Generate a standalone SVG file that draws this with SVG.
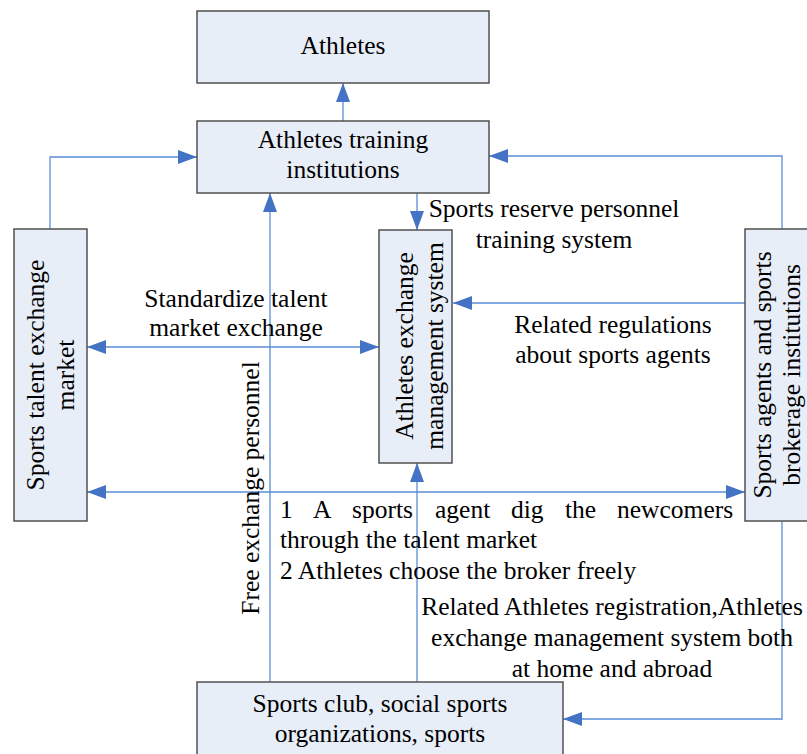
<svg xmlns="http://www.w3.org/2000/svg" width="807" height="754" viewBox="0 0 807 754">
<style>
.box{fill:#E8EEF8;stroke:#505050;stroke-width:1.5}
.t{font-family:"Liberation Serif","Times New Roman",serif;font-size:25.5px;fill:#000}
.c{text-anchor:middle}
.ln{fill:none;stroke:#5B8ED6;stroke-width:1.3}
</style>
<defs>
<marker id="ah" markerUnits="userSpaceOnUse" markerWidth="19" markerHeight="14" refX="19" refY="7" orient="auto-start-reverse">
<path d="M0,0 L19,7 L0,14 z" fill="#4472C4"/>
</marker>
</defs>
<rect width="807" height="754" fill="#fff"/>
<g id="connectors">
<line class="ln" x1="343" y1="121" x2="343" y2="83" marker-end="url(#ah)"/>
<polyline class="ln" points="50,229 50,157 197,157" marker-end="url(#ah)"/>
<polyline class="ln" points="782,229 782,156 489,156" marker-end="url(#ah)"/>
<line class="ln" x1="417" y1="193" x2="417" y2="230" marker-end="url(#ah)"/>
<line class="ln" x1="745" y1="303" x2="453" y2="303" marker-end="url(#ah)"/>
<line class="ln" x1="87" y1="347" x2="379" y2="347" marker-start="url(#ah)" marker-end="url(#ah)"/>
<line class="ln" x1="87" y1="492" x2="745" y2="492" marker-start="url(#ah)" marker-end="url(#ah)"/>
<line class="ln" x1="270" y1="682" x2="270" y2="193" marker-end="url(#ah)"/>
<line class="ln" x1="417" y1="682" x2="417" y2="463" marker-end="url(#ah)"/>
<polyline class="ln" points="782,521 782,719 563,719" marker-end="url(#ah)"/>
</g>
<g id="athletes">
<rect class="box" x="197" y="11" width="292" height="72"/>
<text class="t c" x="343" y="54">Athletes</text>
</g>
<g id="training">
<rect class="box" x="197" y="121" width="292" height="72"/>
<text class="t c" x="343" y="148">Athletes training</text>
<text class="t c" x="343" y="178">institutions</text>
</g>
<g id="talent-market">
<rect class="box" x="14" y="229" width="73" height="292"/>
<text class="t c" transform="translate(44,375) rotate(-90)">Sports talent exchange</text>
<text class="t c" transform="translate(74,375) rotate(-90)">market</text>
</g>
<g id="management">
<rect class="box" x="379" y="230" width="73" height="233"/>
<text class="t c" transform="translate(413,346) rotate(-90)">Athletes exchange</text>
<text class="t c" transform="translate(443,346) rotate(-90)">management system</text>
</g>
<g id="agents">
<rect class="box" x="745" y="229" width="75" height="292"/>
<text class="t c" transform="translate(771,375) rotate(-90)">Sports agents and sports</text>
<text class="t c" transform="translate(800,375) rotate(-90)">brokerage institutions</text>
</g>
<g id="club">
<rect class="box" x="197" y="682" width="366" height="90"/>
<text class="t c" x="380" y="712">Sports club, social sports</text>
<text class="t c" x="380" y="742">organizations, sports</text>
</g>
<g id="labels">
<text class="t c" x="554" y="217">Sports reserve personnel</text>
<text class="t c" x="554" y="248">training system</text>
<text class="t c" x="613" y="333">Related regulations</text>
<text class="t c" x="613" y="363">about sports agents</text>
<text class="t c" x="236" y="307">Standardize talent</text>
<text class="t c" x="236" y="336">market exchange</text>
<text class="t c" transform="translate(259,488) rotate(-90)">Free exchange personnel</text>
<text class="t" y="518"><tspan x="280">1</tspan><tspan x="313">A</tspan><tspan x="352">sports</tspan><tspan x="435">agent</tspan><tspan x="511">dig</tspan><tspan x="565">the</tspan><tspan x="617">newcomers</tspan></text>
<text class="t" x="280" y="548">through the talent market</text>
<text class="t" x="280" y="579">2 Athletes choose the broker freely</text>
<text class="t c" x="612" y="615">Related Athletes registration,Athletes</text>
<text class="t c" x="612" y="646">exchange management system both</text>
<text class="t c" x="612" y="677">at home and abroad</text>
</g>
</svg>
